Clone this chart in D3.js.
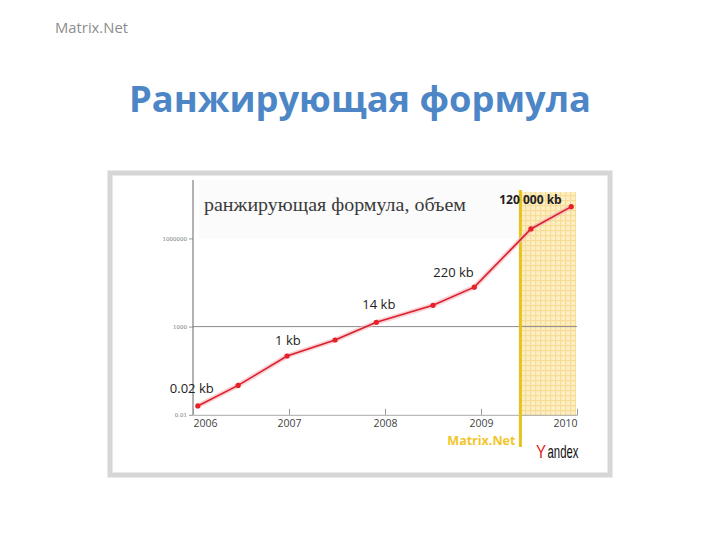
<!DOCTYPE html>
<html><head><meta charset="utf-8">
<script src="https://cdn.jsdelivr.net/npm/d3@7"></script>
<style>body{margin:0;background:#fff}svg{display:block}</style></head>
<body><svg id="c" width="720" height="540"></svg>
<script>
// ---- data ----
const years = [2006.05, 2006.47, 2006.98, 2007.48, 2007.91, 2008.5, 2008.93, 2009.52, 2009.94];
const volumeKb = [0.02, 0.1, 1, 3.5, 14, 53, 220, 21000, 120000];
const labelIndex = [0, 2, 4, 6, 8];
const labelTexts = ["0.02 kb", "1 kb", "14 kb", "220 kb", "120 000 kb"];
const xTicks = [2006, 2007, 2008, 2009, 2010];
const yTicks = [0.01, 10, 10000];
const yTickLabels = ["0.01", "1000", "1000000"];
const gridTicks = [10];
const matrixNetStart = 2009.4;

// ---- layout / styles ----
const labelOffsets = [[-28, -13], [-12, -11], [-14, -13], [-41, -10], [-72, -3]];
const svg = d3.select("#c");
const x = d3.scaleLinear().domain([2006, 2010]).range([193, 577]);
const y = d3.scaleLog().domain([0.01, 10000]).range([414.8, 238.4]);
const plotTop = 180, plotBottom = y(0.01);

// page header
svg.append("text").attr("x", 55).attr("y", 33).text("Matrix.Net")
  .attr("font-family", "Open Sans, sans-serif").attr("font-size", 14).attr("fill", "#8c8c8c")
  .attr("textLength", 73).attr("lengthAdjust", "spacingAndGlyphs");
svg.append("text").attr("x", 360).attr("y", 112).attr("text-anchor", "middle")
  .text("Ранжирующая формула")
  .attr("font-family", "Open Sans, sans-serif").attr("font-weight", "bold")
  .attr("font-size", 35).attr("fill", "#4d86c6")
  .attr("textLength", 462).attr("lengthAdjust", "spacingAndGlyphs");

// frame
svg.append("rect").attr("x", 110).attr("y", 173).attr("width", 500).attr("height", 302)
  .attr("fill", "#fff").attr("stroke", "#d6d6d6").attr("stroke-width", 5);

// faint band behind title
svg.append("rect").attr("x", x(2006) + 6).attr("y", plotTop).attr("width", x(matrixNetStart) - x(2006) - 6)
  .attr("height", y(10000) - plotTop).attr("fill", "#fbfbfb");

// MatrixNet highlighted period
const defs = svg.append("defs");
const pat = defs.append("pattern").attr("id", "plaid").attr("patternUnits", "userSpaceOnUse")
  .attr("width", 5).attr("height", 5);
pat.append("rect").attr("width", 5).attr("height", 5).attr("fill", "#fdeec4");
pat.append("rect").attr("x", 0).attr("y", 0).attr("width", 1.2).attr("height", 5).attr("fill", "#f7dc96");
pat.append("rect").attr("x", 0).attr("y", 0).attr("width", 5).attr("height", 1.2).attr("fill", "#f7dc96");
svg.append("rect").attr("x", x(matrixNetStart) + 2).attr("y", 192)
  .attr("width", x(2010) - x(matrixNetStart) - 3).attr("height", plotBottom - 192 + 1)
  .attr("fill", "url(#plaid)");

// gridline
svg.append("g").selectAll("line").data(gridTicks).join("line")
  .attr("x1", x(2006)).attr("x2", x(2010)).attr("y1", d => y(d)).attr("y2", d => y(d))
  .attr("stroke", "#8a8a8a").attr("stroke-width", 1);

// y axis
const yAxis = svg.append("g").attr("transform", `translate(${x(2006)},0)`)
  .call(d3.axisLeft(y).tickValues(yTicks).tickSize(4).tickPadding(2)
    .tickFormat((d, i) => yTickLabels[i]));
yAxis.select(".domain").remove();
yAxis.selectAll("line").attr("stroke", "#999");
yAxis.selectAll("text").attr("font-size", 5.5).attr("fill", "#777").attr("font-family", "DejaVu Serif, serif");
svg.append("line").attr("x1", x(2006)).attr("x2", x(2006)).attr("y1", plotTop).attr("y2", plotBottom)
  .attr("stroke", "#666").attr("stroke-width", 1);

// x axis
const xAxis = svg.append("g").attr("transform", `translate(0,${plotBottom})`)
  .call(d3.axisBottom(x).tickValues(xTicks).tickSize(-6).tickPadding(5).tickFormat(d3.format("d")));
xAxis.select(".domain").attr("stroke", "#aaa");
xAxis.selectAll("line").attr("stroke", "#999");
xAxis.selectAll("text").attr("font-size", 10.5).attr("fill", "#444")
  .attr("font-family", "Open Sans, sans-serif")
  .attr("text-anchor", (d, i) => i === 0 ? "start" : (i === xTicks.length - 1 ? "end" : "middle"));

// MatrixNet bar and label
svg.append("line").attr("x1", x(matrixNetStart) + 1).attr("x2", x(matrixNetStart) + 1)
  .attr("y1", 190).attr("y2", 447).attr("stroke", "#e8c21c").attr("stroke-width", 3);
svg.append("text").attr("x", x(matrixNetStart) - 4).attr("y", 445).attr("text-anchor", "end")
  .text("Matrix.Net").attr("font-family", "Open Sans, sans-serif").attr("font-weight", "bold")
  .attr("font-size", 12.5).attr("fill", "#f1c62a");

// Yandex logo (two pieces)
svg.append("text").attr("x", 536).attr("y", 458).text("Y")
  .attr("font-family", "Liberation Sans Narrow, Liberation Sans, sans-serif").attr("font-size", 19)
  .attr("fill", "#e21b1b").attr("textLength", 10).attr("lengthAdjust", "spacingAndGlyphs");
svg.append("text").attr("x", 547.5).attr("y", 458).text("andex")
  .attr("font-family", "Liberation Sans Narrow, Liberation Sans, sans-serif").attr("font-size", 19)
  .attr("fill", "#111").attr("textLength", 31).attr("lengthAdjust", "spacingAndGlyphs");

// chart title
svg.append("text").attr("x", 204).attr("y", 211).text("ранжирующая формула, объем")
  .attr("font-family", "Liberation Serif, serif").attr("font-size", 19.5).attr("fill", "#3a3a3a")
  .attr("textLength", 262).attr("lengthAdjust", "spacingAndGlyphs");

// line
const pts = years.map((yr, i) => [x(yr), y(volumeKb[i])]);
const line = d3.line();
svg.append("path").attr("d", line(pts)).attr("fill", "none")
  .attr("stroke", "#f7b4bd").attr("stroke-width", 5).attr("stroke-opacity", 0.6);
svg.append("path").attr("d", line(pts)).attr("fill", "none")
  .attr("stroke", "#d8202c").attr("stroke-width", 1.6);
svg.append("g").selectAll("circle").data(pts).join("circle")
  .attr("cx", d => d[0]).attr("cy", d => d[1]).attr("r", 2.6).attr("fill", "#e8202a");

// value labels
svg.append("g").selectAll("text").data(labelIndex).join("text")
  .attr("x", (d, i) => pts[d][0] + labelOffsets[i][0])
  .attr("y", (d, i) => pts[d][1] + labelOffsets[i][1])
  .text((d, i) => labelTexts[i])
  .attr("font-family", "Open Sans, sans-serif")
  .attr("font-size", (d, i) => i === labelTexts.length - 1 ? 12 : 13)
  .attr("font-weight", (d, i) => i === labelTexts.length - 1 ? "bold" : "normal")
  .attr("fill", "#222");
</script></body></html>
